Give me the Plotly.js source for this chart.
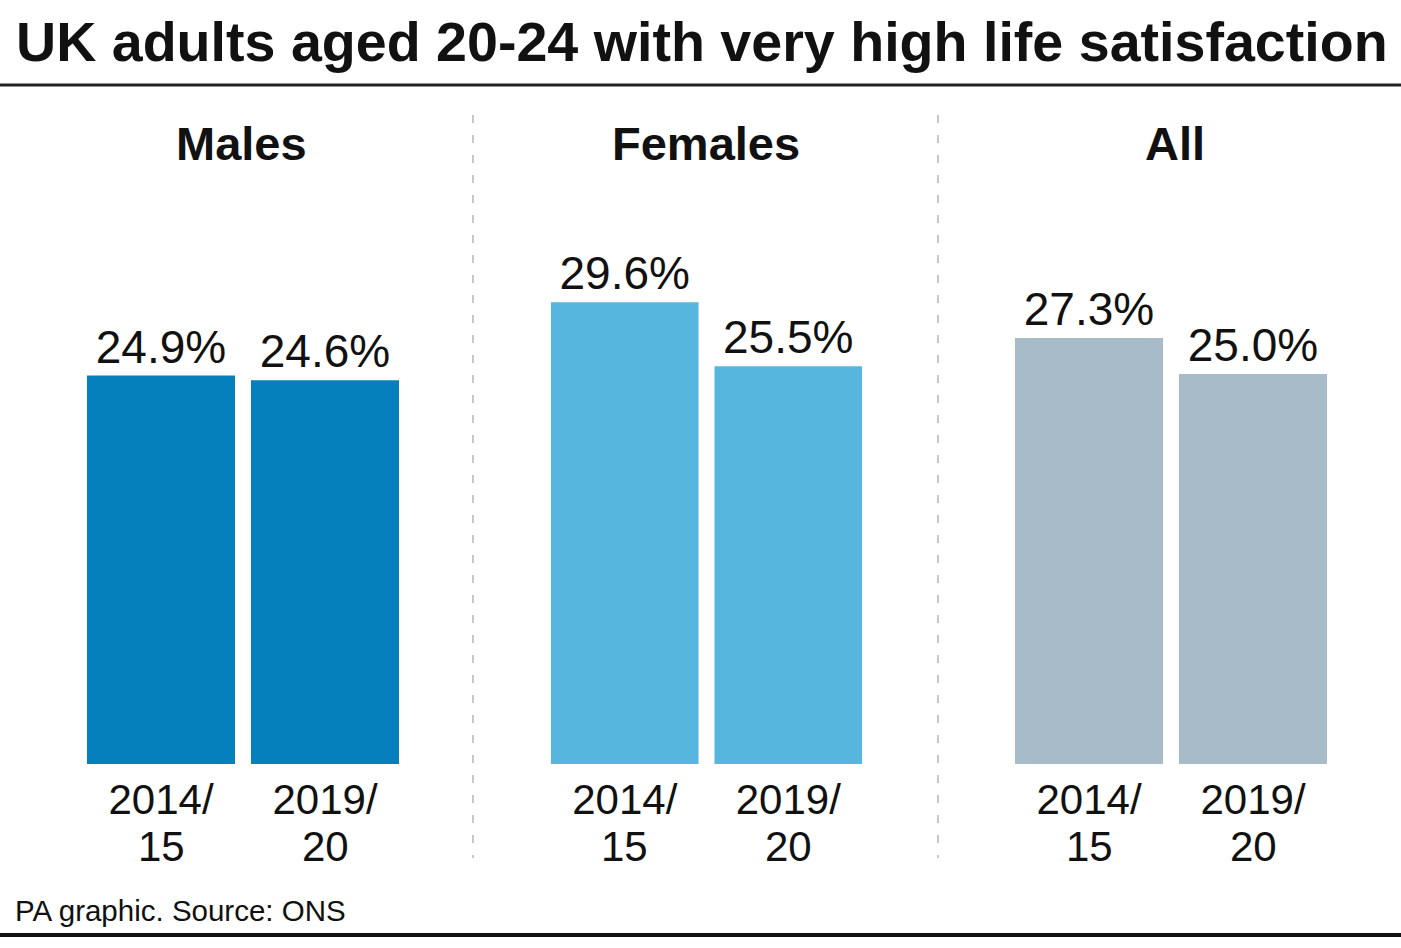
<!DOCTYPE html>
<html>
<head>
<meta charset="utf-8">
<script src="https://cdn.plot.ly/plotly-3.0.1.min.js"></script>
<style>html,body{margin:0;padding:0;background:#fff;}#chart{width:1401px;height:948px;}</style>
</head>
<body>
<div id="chart"></div>
<script>
const periods = ["2014/15", "2019/20"];
const periodLine1 = ["2014/", "2019/"];
const periodLine2 = ["15", "20"];
const groups = ["Males", "Females", "All"];
const males = [24.9, 24.6];
const females = [29.6, 25.5];
const all = [27.3, 25.0];
const seriesValues = [males, females, all];
const colors = ["#0580BC", "#56B6DE", "#A7BCC8"];

const FONT = "Liberation Sans, Arial, Helvetica, sans-serif";
const W = 1401, H = 948;
const px = v => v / W;
const py = v => 1 - v / H;

const domains = [[79, 407], [543, 870], [1007, 1335]];

const traces = seriesValues.map((vals, i) => ({
  type: "bar",
  x: periods,
  y: vals,
  xaxis: i === 0 ? "x" : "x" + (i + 1),
  yaxis: i === 0 ? "y" : "y" + (i + 1),
  marker: { color: colors[i], line: { width: 0 } },
  text: vals.map(v => v.toFixed(1) + "%"),
  textposition: "outside",
  cliponaxis: false,
  textfont: { family: FONT, size: 46, color: "#111" },
  hoverinfo: "skip"
}));

const layout = {
  width: W, height: H,
  margin: { l: 0, r: 0, t: 0, b: 0 },
  paper_bgcolor: "#fff",
  plot_bgcolor: "rgba(0,0,0,0)",
  showlegend: false,
  bargap: 16 / 164,
  font: { family: FONT, color: "#111" },
  title: {
    text: "<b>UK adults aged 20-24 with very high life satisfaction</b>",
    font: { family: FONT, size: 55.6, color: "#111" },
    x: px(16), xanchor: "left", xref: "container",
    y: py(42), yanchor: "middle", yref: "container"
  },
  annotations: [],
  shapes: [
    { type: "line", xref: "paper", yref: "paper", x0: 0, x1: 1, y0: py(85), y1: py(85), line: { color: "#222", width: 3 } },
    { type: "line", xref: "paper", yref: "paper", x0: 0, x1: 1, y0: py(935), y1: py(935), line: { color: "#111", width: 4 } },
    { type: "line", xref: "paper", yref: "paper", x0: px(473), x1: px(473), y0: py(115), y1: py(858), line: { color: "#c8c8c8", width: 2, dash: "8px,12px" } },
    { type: "line", xref: "paper", yref: "paper", x0: px(938), x1: px(938), y0: py(115), y1: py(858), line: { color: "#c8c8c8", width: 2, dash: "8px,12px" } }
  ]
};

const centers = [241, 706, 1175];
groups.forEach((g, i) => {
  const xk = i === 0 ? "xaxis" : "xaxis" + (i + 1);
  const yk = i === 0 ? "yaxis" : "yaxis" + (i + 1);
  const xref = i === 0 ? "x" : "x" + (i + 1);
  layout[xk] = {
    domain: [px(domains[i][0]), px(domains[i][1])],
    anchor: i === 0 ? "y" : "y" + (i + 1),
    type: "category",
    tickmode: "array",
    tickvals: periods,
    ticktext: periodLine1,
    tickfont: { family: FONT, size: 42, color: "#111" },
    showgrid: false, zeroline: false, showline: false, ticks: "",
    ticklabelstandoff: 7,
    fixedrange: true
  };
  layout[yk] = {
    domain: [1 - 764 / H, 1 - 140 / H],
    anchor: i === 0 ? "x" : "x" + (i + 1),
    range: [0, 40],
    visible: false,
    fixedrange: true
  };
  layout.annotations.push({
    text: "<b>" + g + "</b>",
    xref: "paper", yref: "paper",
    x: px(centers[i]), y: py(143),
    xanchor: "center", yanchor: "middle",
    showarrow: false,
    font: { family: FONT, size: 47, color: "#111" }
  });
  periods.forEach((p, j) => {
    layout.annotations.push({
      text: periodLine2[j],
      xref: xref, yref: "paper",
      x: p, y: py(846),
      xanchor: "center", yanchor: "middle",
      showarrow: false,
      font: { family: FONT, size: 42, color: "#111" }
    });
  });
});

layout.annotations.push({
  text: "PA graphic. Source: ONS",
  xref: "paper", yref: "paper",
  x: px(13), y: py(910),
  xanchor: "left", yanchor: "middle",
  showarrow: false,
  font: { family: FONT, size: 29.5, color: "#111" }
});

Plotly.newPlot("chart", traces, layout, { displayModeBar: false, staticPlot: true });
</script>
</body>
</html>
